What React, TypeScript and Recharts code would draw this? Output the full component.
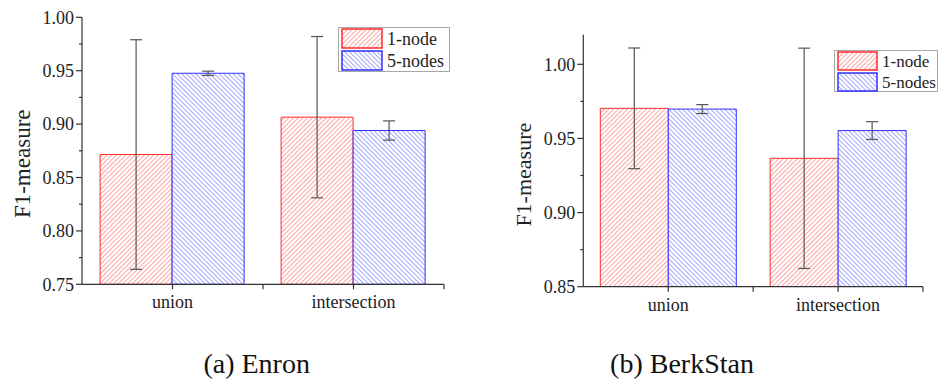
import React from 'react'
import { BarChart, Bar, XAxis, YAxis, ErrorBar, Legend, Label } from 'recharts'

const categories = ['union', 'intersection']

const enronOneNode = [0.8715, 0.9065]
const enronOneNodeErr = [0.1075, 0.0755]
const enronFiveNodes = [0.9476, 0.894]
const enronFiveNodesErr = [0.002, 0.009]

const berkOneNode = [0.9703, 0.9366]
const berkOneNodeErr = [0.0407, 0.0743]
const berkFiveNodes = [0.9698, 0.9553]
const berkFiveNodesErr = [0.003, 0.006]

const enronMajorTicks = [0.75, 0.8, 0.85, 0.9, 0.95, 1.0]
const enronMinorTicks = [0.775, 0.825, 0.875, 0.925, 0.975]
const berkMajorTicks = [0.85, 0.9, 0.95, 1.0]
const berkMinorTicks = [0.875, 0.925, 0.975]

const seriesNames = ['1-node', '5-nodes']
const captions = ['(a) Enron', '(b) BerkStan']

const FONT = 'Liberation Serif, DejaVu Serif, serif'
const AXIS = '#333'
const RED = '#ff2a2a'
const BLUE = '#3030ff'

function buildData(one: number[], oneErr: number[], five: number[], fiveErr: number[]) {
  return categories.map((c, i) => ({
    category: c,
    one: one[i],
    oneErr: oneErr[i],
    five: five[i],
    fiveErr: fiveErr[i],
  }))
}

function Hatch({ id, color, angle }: { id: string; color: string; angle: number }) {
  return (
    <pattern
      id={id}
      patternUnits="userSpaceOnUse"
      width={3.3}
      height={3.3}
      patternTransform={`rotate(${angle})`}
    >
      <rect width={3.3} height={3.3} fill="#fff" />
      <line x1={0.5} y1={0} x2={0.5} y2={3.3} stroke={color} strokeWidth={0.9} />
    </pattern>
  )
}

function makeYTick(majors: number[]) {
  return (props: any) => {
    const { x, y, payload } = props
    const v = payload.value as number
    const major = majors.some((m) => Math.abs(m - v) < 1e-6)
    return (
      <g>
        <line x1={x - (major ? 6 : 3)} x2={x} y1={y} y2={y} stroke={AXIS} strokeWidth={1.2} />
        {major && (
          <text
            x={x - 8}
            y={y}
            dy="0.35em"
            textAnchor="end"
            style={{ fontFamily: FONT, fontSize: 18 }}
            fill="#222"
          >
            {v.toFixed(2)}
          </text>
        )}
      </g>
    )
  }
}

function makeXTick(halfBand: number, fontSize: number) {
  return (props: any) => {
    const { x, y, payload } = props
    const half = payload.offset > 0 ? payload.offset : halfBand
    return (
      <g>
        <line x1={x} x2={x} y1={y} y2={y + 5} stroke={AXIS} strokeWidth={1.2} />
        <line x1={x + half} x2={x + half} y1={y} y2={y + 5} stroke={AXIS} strokeWidth={1.2} />
        <text x={x} y={y + 24} textAnchor="middle" style={{ fontFamily: FONT, fontSize }} fill="#222">
          {payload.value}
        </text>
      </g>
    )
  }
}

function makeLegend(prefix: string, w: number, h: number, sw: number, sh: number, fontSize: number) {
  return () => (
    <div style={{ width: w, height: h, border: '1px solid #a8a8a8', background: '#fff', boxSizing: 'border-box' }}>
      <svg width={w} height={h} style={{ display: 'block' }}>
        <defs>
          <Hatch id={`${prefix}-lg-red`} color="#ff9a9a" angle={45} />
          <Hatch id={`${prefix}-lg-blue`} color="#9a9aff" angle={-45} />
        </defs>
        {seriesNames.map((name, i) => (
          <g key={name}>
            <rect
              x={3}
              y={1 + i * (sh + 3)}
              width={sw}
              height={sh}
              fill={`url(#${prefix}-lg-${i === 0 ? 'red' : 'blue'})`}
              stroke={i === 0 ? RED : BLUE}
              strokeWidth={1.5}
            />
            <text
              x={sw + 8}
              y={1 + i * (sh + 3) + sh - 3}
              style={{ fontFamily: FONT, fontSize }}
              fill="#222"
            >
              {name}
            </text>
          </g>
        ))}
      </svg>
    </div>
  )
}

type PanelProps = {
  prefix: string
  data: any[]
  width: number
  height: number
  margin: { top: number; right: number; bottom: number; left: number }
  yWidth: number
  xHeight: number
  domain: [number, number]
  majors: number[]
  minors: number[]
  labelX: number
  labelDy: number
  labelSize: number
  tickFont: number
  legendPos: { left: number; top: number }
  legendBox: [number, number, number, number, number]
}

function Panel(p: PanelProps) {
  const ticks = [...p.majors, ...p.minors].sort((a, b) => a - b)
  const plotW = p.width - p.margin.left - p.margin.right - p.yWidth
  const halfBand = plotW / categories.length / 2
  const [lw, lh, sw, sh, lf] = p.legendBox
  return (
    <BarChart
      width={p.width}
      height={p.height}
      data={p.data}
      margin={p.margin}
      barCategoryGap="10%"
      barGap={0}
    >
      <defs>
        <Hatch id={`${p.prefix}-red`} color="#ff9a9a" angle={45} />
        <Hatch id={`${p.prefix}-blue`} color="#9a9aff" angle={-45} />
      </defs>
      <XAxis
        dataKey="category"
        height={p.xHeight}
        axisLine={{ stroke: AXIS, strokeWidth: 1.2 }}
        tickLine={false}
        tickSize={0}
        tickMargin={0}
        interval={0}
        tick={makeXTick(halfBand, p.tickFont)}
      />
      <YAxis
        type="number"
        domain={p.domain}
        allowDataOverflow
        ticks={ticks}
        interval={0}
        width={p.yWidth}
        axisLine={{ stroke: AXIS, strokeWidth: 1.2 }}
        tickLine={false}
        tickSize={0}
        tickMargin={0}
        tick={makeYTick(p.majors)}
      >
        <Label
          content={(lp: any) => {
            const vb = lp.viewBox || { y: 0, height: 0 }
            const cy = vb.y + vb.height / 2 + p.labelDy
            return (
              <text
                x={p.labelX}
                y={cy}
                transform={`rotate(-90 ${p.labelX} ${cy})`}
                textAnchor="middle"
                dominantBaseline="central"
                style={{ fontFamily: FONT, fontSize: p.labelSize }}
                fill="#222"
              >
                F1-measure
              </text>
            )
          }}
        />
      </YAxis>
      <Legend
        layout="vertical"
        align="center"
        verticalAlign="middle"
        content={makeLegend(p.prefix, lw, lh, sw, sh, lf)}
        wrapperStyle={{ left: p.legendPos.left, top: p.legendPos.top, width: lw, height: lh }}
      />
      <Bar
        dataKey="one"
        name={seriesNames[0]}
        fill={`url(#${p.prefix}-red)`}
        stroke={RED}
        strokeWidth={1}
        isAnimationActive={false}
      >
        <ErrorBar dataKey="oneErr" width={6} stroke="#555" strokeWidth={1.2} direction="y" isAnimationActive={false} />
      </Bar>
      <Bar
        dataKey="five"
        name={seriesNames[1]}
        fill={`url(#${p.prefix}-blue)`}
        stroke={BLUE}
        strokeWidth={1}
        isAnimationActive={false}
      >
        <ErrorBar dataKey="fiveErr" width={6} stroke="#555" strokeWidth={1.2} direction="y" isAnimationActive={false} />
      </Bar>
    </BarChart>
  )
}

export default function App() {
  const enron = buildData(enronOneNode, enronOneNodeErr, enronFiveNodes, enronFiveNodesErr)
  const berk = buildData(berkOneNode, berkOneNodeErr, berkFiveNodes, berkFiveNodesErr)
  return (
    <div
      style={{
        position: 'absolute',
        left: 0,
        top: 0,
        width: 938,
        height: 383,
        overflow: 'hidden',
        background: '#fff',
        fontFamily: FONT,
      }}
    >
      <div style={{ position: 'absolute', left: 0, top: 0 }}>
        <Panel
          prefix="enron"
          data={enron}
          width={470}
          height={320}
          margin={{ top: 17.3, right: 26, bottom: 0, left: 0 }}
          yWidth={82}
          xHeight={35.7}
          domain={[0.75, 1.0]}
          majors={enronMajorTicks}
          minors={enronMinorTicks}
          labelX={22.5}
          labelDy={13}
          labelSize={23}
          tickFont={18}
          legendPos={{ left: 338, top: 27 }}
          legendBox={[112, 45, 40, 19, 18]}
        />
      </div>
      <div style={{ position: 'absolute', left: 470, top: 0 }}>
        <Panel
          prefix="berk"
          data={berk}
          width={468}
          height={320}
          margin={{ top: 34.65, right: 15, bottom: 0, left: 0 }}
          yWidth={113.3}
          xHeight={33.3}
          domain={[0.85, 1.02]}
          majors={berkMajorTicks}
          minors={berkMinorTicks}
          labelX={54}
          labelDy={14}
          labelSize={22}
          tickFont={18}
          legendPos={{ left: 364, top: 50 }}
          legendBox={[104, 42, 39, 18, 17]}
        />
      </div>
      <svg width={938} height={383} style={{ position: 'absolute', left: 0, top: 0, pointerEvents: 'none' }}>
        <text x={256.7} y={373} textAnchor="middle" style={{ fontFamily: FONT, fontSize: 28 }} fill="#111">
          {captions[0]}
        </text>
        <text x={682} y={373} textAnchor="middle" style={{ fontFamily: FONT, fontSize: 28 }} fill="#111">
          {captions[1]}
        </text>
      </svg>
    </div>
  )
}
